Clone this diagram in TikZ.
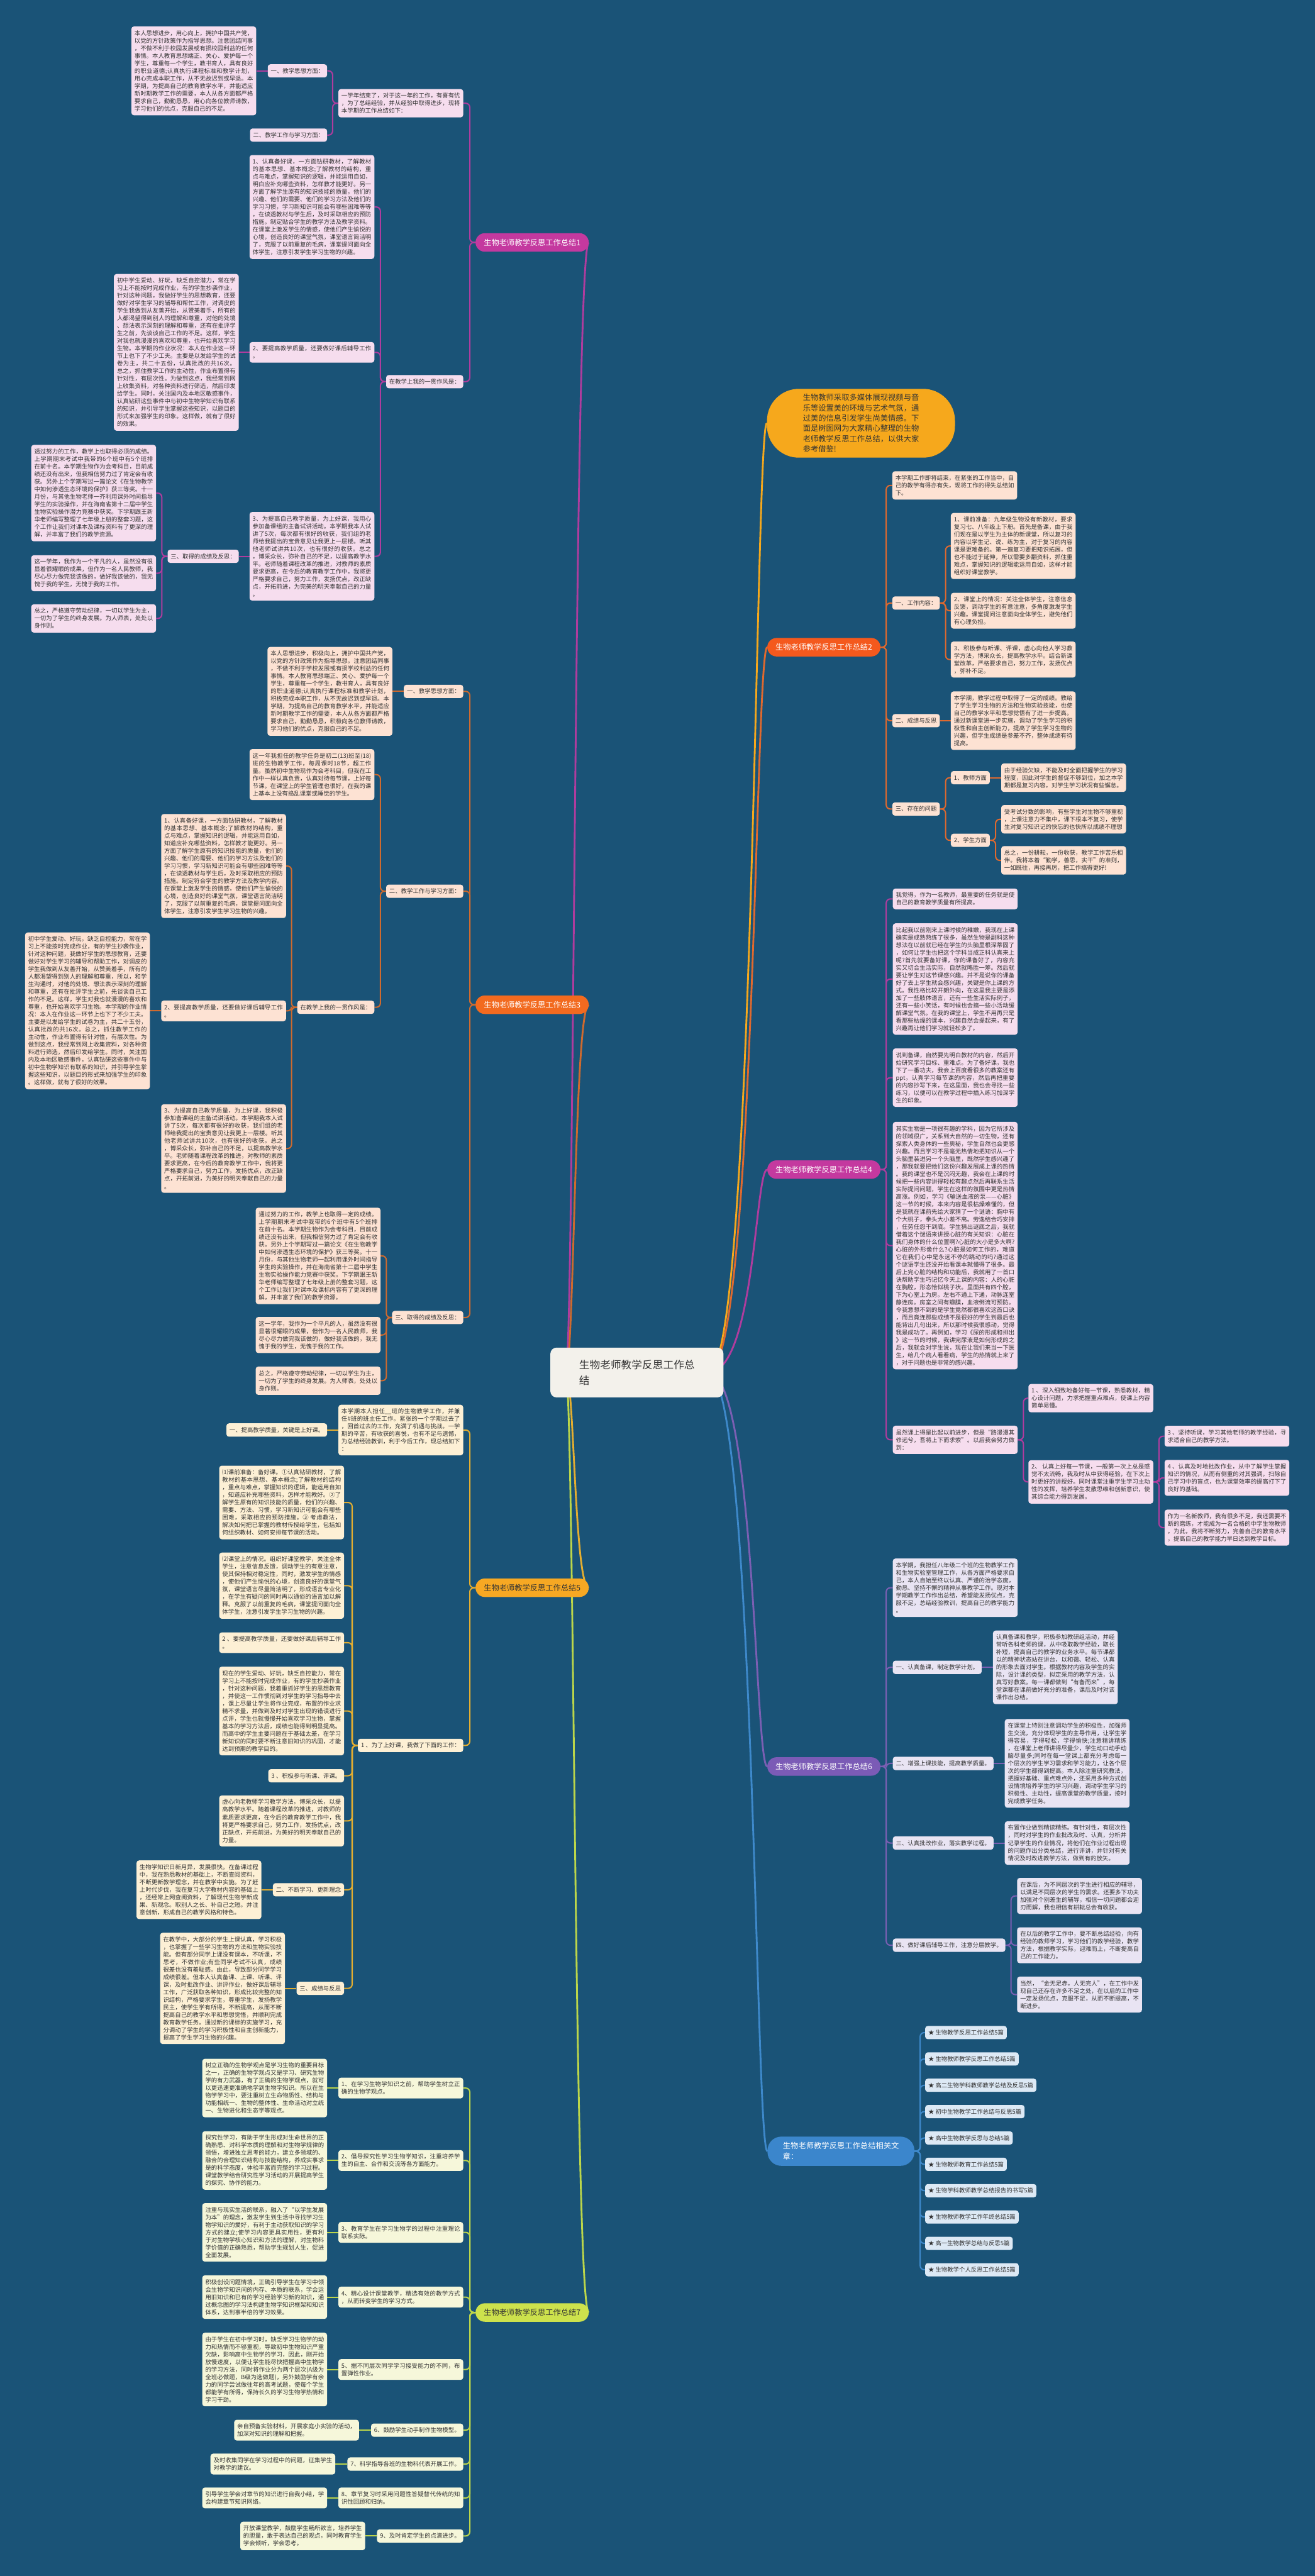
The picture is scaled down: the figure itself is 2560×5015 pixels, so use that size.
\documentclass[tikz,border=0pt]{standalone}
\usepackage{fontspec}
\setmainfont{Noto Sans CJK SC}
\usetikzlibrary{backgrounds}

\definecolor{bgblue}{HTML}{1A5377}
\definecolor{ink}{HTML}{333333}
\definecolor{cbox}{HTML}{F3F1EB}
\definecolor{introcol}{HTML}{F6A81C}
\definecolor{b1col}{HTML}{C4399F}
\definecolor{l1col}{HTML}{B03C9E}
\definecolor{f1col}{HTML}{F6DDEE}
\definecolor{b2col}{HTML}{F4591D}
\definecolor{l2col}{HTML}{E0692E}
\definecolor{f2col}{HTML}{FDE2D3}
\definecolor{b3col}{HTML}{F26A1F}
\definecolor{l3col}{HTML}{CF6A2E}
\definecolor{b5col}{HTML}{F7A823}
\definecolor{l5col}{HTML}{E4AE30}
\definecolor{f5col}{HTML}{FDF0D5}
\definecolor{b6col}{HTML}{7B5BB6}
\definecolor{l6col}{HTML}{7B5FB3}
\definecolor{f6col}{HTML}{E9E4F3}
\definecolor{b7col}{HTML}{CDE24C}
\definecolor{l7col}{HTML}{BCD64A}
\definecolor{f7col}{HTML}{F6F7DA}
\definecolor{b8col}{HTML}{3B86CC}
\definecolor{l8col}{HTML}{3E89CB}
\definecolor{f8col}{HTML}{DDE9F5}

\newcommand{\leaffont}{\fontsize{11.5pt}{14.7pt}\selectfont}

% let lines break between Chinese characters
\XeTeXinterchartokenstate=1
\chardef\cjkcls=10
\newcount\cjkc
\newcommand{\setcjk}[2]{\cjkc=#1\relax
  \loop\XeTeXcharclass\cjkc=\cjkcls\relax
  \ifnum\cjkc<#2\relax\advance\cjkc by 1\relax\repeat}
\setcjk{"2000}{"206F}
\setcjk{"2460}{"24FF}
\setcjk{"2600}{"26FF}
\setcjk{"3000}{"303F}
\setcjk{"4E00}{"9FFF}
\setcjk{"FF00}{"FFEF}
\XeTeXinterchartoks\cjkcls\cjkcls={\hskip0pt plus 1pt\relax}
\XeTeXinterchartoks 0 \cjkcls={\hskip0pt plus 1pt\relax}
\XeTeXinterchartoks\cjkcls 0 ={\hskip0pt plus 1pt\relax}
\tolerance=9999 \hbadness=10000 \hfuzz=4pt

\begin{document}
\begin{tikzpicture}[
    x=1pt, y=-1pt,
    leaf/.style={rounded corners=5pt, inner xsep=6pt, inner ysep=7.5pt, font=\leaffont, text=ink},
    para/.style={leaf, text width=231pt, align=justify},
    bnode/.style={rounded corners=18pt, minimum height=36pt, inner xsep=16pt, inner ysep=4pt, font=\fontsize{15pt}{18pt}\selectfont},
    main/.style={line width=3.5pt},
    p1/.style={fill=f1col}, p2/.style={fill=f2col}, p5/.style={fill=f5col},
    p6/.style={fill=f6col}, p7/.style={fill=f7col}, p8/.style={fill=f8col},
    e1/.style={draw=l1col, line width=2.5pt, rounded corners=8pt},
    e2/.style={draw=l2col, line width=2.5pt, rounded corners=8pt},
    e3/.style={draw=l3col, line width=2.5pt, rounded corners=8pt},
    e5/.style={draw=l5col, line width=2.5pt, rounded corners=8pt},
    e6/.style={draw=l6col, line width=2.5pt, rounded corners=8pt},
    e7/.style={draw=l7col, line width=2.5pt, rounded corners=8pt},
    e8/.style={draw=l8col, line width=2.5pt, rounded corners=8pt}
]
\useasboundingbox (0,0) rectangle (2560,5015);

% Centre topic and intro
\node[fill=cbox, text=ink, rounded corners=12pt, text width=225pt, align=justify, inner xsep=56pt, inner ysep=24pt, font=\fontsize{20.4pt}{30pt}\selectfont] (cn) at (1240,2672) {生物老师教学反思工作总结};
\node[fill=introcol, text=ink, rounded corners=62pt, text width=226pt, align=justify, inner xsep=70pt, inner ysep=10pt, font=\fontsize{15pt}{20pt}\selectfont, anchor=west] (intro) at (1493,824) {生物教师采取多媒体展现视频与音乐等设置美的环境与艺术气氛，通过美的信息引发学生尚美情感。下面是树图网为大家精心整理的生物老师教学反思工作总结，以供大家参考借鉴!};

% Branch nodes
\node[bnode, fill=b1col, text=white] (b1) at (1036,472) {生物老师教学反思工作总结1};
\node[bnode, fill=b3col, text=white] (b3) at (1036,1956) {生物老师教学反思工作总结3};
\node[bnode, fill=b5col, text=ink] (b5) at (1036,3091) {生物老师教学反思工作总结5};
\node[bnode, fill=b7col, text=ink] (b7) at (1036,4502) {生物老师教学反思工作总结7};
\node[bnode, fill=b2col, text=white] (b2) at (1604,1260) {生物老师教学反思工作总结2};
\node[bnode, fill=b1col, text=white] (b4) at (1604,2277) {生物老师教学反思工作总结4};
\node[bnode, fill=b6col, text=white] (b6) at (1604,3439) {生物老师教学反思工作总结6};
\node[fill=b8col, text=white, rounded corners=27pt, text width=226pt, align=justify, inner xsep=30pt, inner ysep=11pt, font=\fontsize{15pt}{21pt}\selectfont, anchor=west] (art) at (1494,4188) {生物老师教学反思工作总结相关文章：};

% Branch 1
\node[para, p1, anchor=east] (n1a) at (902,201) {一学年结束了，对于这一年的工作，有喜有忧，为了总结经验，并从经验中取得进步，现将本学期的工作总结如下：};
\node[leaf, p1, anchor=east] (n1a1) at (637,138) {一、教学思想方面：};
\node[para, p1, anchor=east] (n1a1t) at (499,138) {本人思想进步，用心向上，拥护中国共产党，以党的方针政策作为指导思想。注意团结同事，不做不利于校园发展或有损校园利益的任何事情。本人教育思想端正、关心、爱护每一个学生，尊重每一个学生，教书育人，具有良好的职业道德;认真执行课程标准和教学计划，用心完成本职工作，从不无故迟到或早退。本学期，为提高自己的教育教学水平，并能适应新时期教学工作的需要，本人从各方面都严格要求自己，勤勤恳恳，用心向各位教师请教，学习他们的优点，克服自己的不足。};
\node[leaf, p1, anchor=east] (n1a2) at (637,263) {二、教学工作与学习方面：};
\node[leaf, p1, anchor=east] (n1b) at (902,743) {在教学上我的一贯作风是：};
\node[para, p1, anchor=east] (n1b1) at (729,403) {1、认真备好课，一方面钻研教材，了解教材的基本思想、基本概念;了解教材的结构，重点与难点，掌握知识的逻辑，并能运用自如，明白应补充哪些资料，怎样教才能更好。另一方面了解学生原有的知识技能的质量，他们的兴趣、他们的需要、他们的学习方法及他们的学习习惯，学习新知识可能会有哪些困难等等，在读透教材与学生后，及时采取相应的预防措施。制定贴合学生的教学方法及教学资料。在课堂上激发学生的情感，使他们产生愉悦的心境，创造良好的课堂气氛，课堂语言简洁明了，克服了以前重复的毛病，课堂提问面向全体学生，注意引发学生学习生物的兴趣。};
\node[para, p1, anchor=east] (n1b2) at (729,686) {2、要提高教学质量，还要做好课后辅导工作。};
\node[para, p1, anchor=east] (n1b2t) at (465,686) {初中学生爱动、好玩，缺乏自控潜力，常在学习上不能按时完成作业，有的学生抄袭作业，针对这种问题，我做好学生的思想教育，还要做好对学生学习的辅导和帮忙工作，对调皮的学生我做到从友善开始，从赞美着手，所有的人都渴望得到别人的理解和尊重，对他的处境、想法表示深刻的理解和尊重，还有在批评学生之前，先谈谈自己工作的不足。这样，学生对我也就漫漫的喜欢和尊重，也开始喜欢学习生物。本学期的作业状况：本人在作业这一环节上也下了不少工夫。主要是以发给学生的试卷为主，共二十五份，认真批改的共16次。总之，抓住教学工作的主动性，作业布置得有针对性，有层次性。为做到这点，我经常到网上收集资料，对各种资料进行筛选，然后印发给学生。同时，关注国内及本地区敏感事件，认真钻研这些事件中与初中生物学知识有联系的知识，并引导学生掌握这些知识，以题目的形式来加强学生的印象。这样做，就有了很好的效果。};
\node[para, p1, anchor=east] (n1b3) at (729,1083) {3、为提高自己教学质量，为上好课，我用心参加备课组的主备试讲活动。本学期我本人试讲了5次，每次都有很好的收获，我们组的老师给我提出的宝贵意见让我更上一层楼。听其他老师试讲共10次，也有很好的收获。总之，博采众长，弥补自己的不足，以提高教学水平。老师随着课程改革的推进，对教师的素质要求更高，在今后的教育教学工作中，我将更严格要求自己，努力工作，发扬优点，改正缺点，开拓前进，为完美的明天奉献自己的力量。};
\node[leaf, p1, anchor=east] (n1c) at (465,1083) {三、取得的成绩及反思：};
\node[para, p1, anchor=east] (n1c1) at (304,960) {透过努力的工作，教学上也取得必须的成绩。上学期期末考试中我带的6个班中有5个班排在前十名。本学期生物作为会考科目，目前成绩还没有出来，但我相信努力过了肯定会有收获。另外上个学期写过一篇论文《在生物教学中如何渗透生态环境的保护》获三等奖。十一月份，与其他生物老师一齐利用课外时间指导学生的实验操作，并在海南省第十二届中学生生物实验操作潜力竞赛中获奖。下学期跟王新华老师编写整理了七年级上册的整套习题，这个工作让我们对课本及课标资料有了更深的理解，并丰富了我们的教学资源。};
\node[para, p1, anchor=east] (n1c2) at (304,1116) {这一学年，我作为一个平凡的人，虽然没有很显着很耀眼的成果，但作为一名人民教师，我尽心尽力做完我该做的，做好我该做的，我无愧于我的学生，无愧于我的工作。};
\node[para, p1, anchor=east] (n1c3) at (304,1204) {总之，严格遵守劳动纪律，一切以学生为主，一切为了学生的终身发展。为人师表，处处以身作则。};

% Branch 3
\node[leaf, p2, anchor=east] (n3a) at (902,1346) {一、教学思想方面：};
\node[para, p2, anchor=east] (n3at) at (764,1346) {本人思想进步，积极向上，拥护中国共产党，以党的方针政策作为指导思想。注意团结同事，不做不利于学校发展或有损学校利益的任何事情。本人教育思想端正、关心、爱护每一个学生，尊重每一个学生，教书育人，具有良好的职业道德;认真执行课程标准和教学计划，积极完成本职工作，从不无故迟到或早退。本学期，为提高自己的教育教学水平，并能适应新时期教学工作的需要，本人从各方面都严格要求自己，勤勤恳恳，积极向各位教师请教，学习他们的优点，克服自己的不足。};
\node[leaf, p2, anchor=east] (n3b) at (902,1735) {二、教学工作与学习方面：};
\node[para, p2, anchor=east] (n3b1) at (729,1508) {这一年我担任的教学任务是初二(13)班至(18)班的生物教学工作，每周课时18节，超工作量。虽然初中生物现作为会考科目，但我在工作中一样认真负责，认真对待每节课，上好每节课。在课堂上的学生管理也很好，在我的课上基本上没有捣乱课堂或睡觉的学生。};
\node[leaf, p2, anchor=east] (n3b2) at (729,1961) {在教学上我的一贯作风是：};
\node[para, p2, anchor=east] (n3b21) at (557,1686) {1、认真备好课，一方面钻研教材，了解教材的基本思想、基本概念;了解教材的结构，重点与难点，掌握知识的逻辑，并能运用自如，知道应补充哪些资料，怎样教才能更好。另一方面了解学生原有的知识技能的质量，他们的兴趣、他们的需要、他们的学习方法及他们的学习习惯，学习新知识可能会有哪些困难等等，在读透教材与学生后，及时采取相应的预防措施。制定符合学生的教学方法及教学内容。在课堂上激发学生的情感，使他们产生愉悦的心境，创造良好的课堂气氛，课堂语言简洁明了，克服了以前重复的毛病，课堂提问面向全体学生，注意引发学生学习生物的兴趣。};
\node[para, p2, anchor=east] (n3b22) at (557,1968) {2、要提高教学质量，还要做好课后辅导工作。};
\node[para, p2, anchor=east] (n3b22t) at (292,1968) {初中学生爱动、好玩，缺乏自控能力，常在学习上不能按时完成作业，有的学生抄袭作业，针对这种问题，我做好学生的思想教育，还要做好对学生学习的辅导和帮助工作，对调皮的学生我做到从友善开始，从赞美着手，所有的人都渴望得到别人的理解和尊重，所以，和学生沟通时，对他的处境、想法表示深刻的理解和尊重，还有在批评学生之前，先谈谈自己工作的不足。这样，学生对我也就漫漫的喜欢和尊重，也开始喜欢学习生物。本学期的作业情况：本人在作业这一环节上也下了不少工夫。主要是以发给学生的试卷为主，共二十五份，认真批改的共16次。总之，抓住教学工作的主动性，作业布置得有针对性，有层次性。为做到这点，我经常到网上收集资料，对各种资料进行筛选，然后印发给学生。同时，关注国内及本地区敏感事件，认真钻研这些事件中与初中生物学知识有联系的知识，并引导学生掌握这些知识，以题目的形式来加强学生的印象。这样做，就有了很好的效果。};
\node[para, p2, anchor=east] (n3b23) at (557,2236) {3、为提高自己教学质量，为上好课，我积极参加备课组的主备试讲活动。本学期我本人试讲了5次，每次都有很好的收获，我们组的老师给我提出的宝贵意见让我更上一层楼。听其他老师试讲共10次，也有很好的收获。总之，博采众长，弥补自己的不足，以提高教学水平。老师随着课程改革的推进，对教师的素质要求更高，在今后的教育教学工作中，我将更严格要求自己，努力工作，发扬优点，改正缺点，开拓前进，为美好的明天奉献自己的力量。};
\node[leaf, p2, anchor=east] (n3c) at (902,2565) {三、取得的成绩及反思：};
\node[para, p2, anchor=east] (n3c1) at (741,2445) {通过努力的工作，教学上也取得一定的成绩。上学期期末考试中我带的6个班中有5个班排在前十名。本学期生物作为会考科目，目前成绩还没有出来，但我相信努力过了肯定会有收获。另外上个学期写过一篇论文《在生物教学中如何渗透生态环境的保护》获三等奖。十一月份，与其他生物老师一起利用课外时间指导学生的实验操作，并在海南省第十二届中学生生物实验操作能力竞赛中获奖。下学期跟王新华老师编写整理了七年级上册的整套习题，这个工作让我们对课本及课标内容有了更深的理解，并丰富了我们的教学资源。};
\node[para, p2, anchor=east] (n3c2) at (741,2599) {这一学年，我作为一个平凡的人，虽然没有很显著很耀眼的成果，但作为一名人民教师，我尽心尽力做完我该做的，做好我该做的，我无愧于我的学生，无愧于我的工作。};
\node[para, p2, anchor=east] (n3c3) at (741,2688) {总之，严格遵守劳动纪律，一切以学生为主，一切为了学生的终身发展。为人师表，处处以身作则。};

% Branch 5
\node[para, p5, anchor=east] (n5a) at (902,2784) {本学期本人担任\_\_班的生物教学工作，并兼任\#班的班主任工作。紧张的一个学期过去了，回首过去的工作，充满了机遇与挑战。一学期的辛苦，有收获的喜悦，也有不足与遗憾，为总结经验教训，利于今后工作，现总结如下：};
\node[leaf, p5, anchor=east] (n5a1) at (637,2784) {一、提高教学质量，关键是上好课。};
\node[leaf, p5, anchor=east] (n5b) at (902,3398) {1 、为了上好课，我做了下面的工作：};
\node[para, p5, anchor=east] (n5b1) at (670,2925) {⑴课前准备：备好课。①认真钻研教材，了解教材的基本思想、基本概念;了解教材的结构，重点与难点，掌握知识的逻辑，能运用自如，知道应补充哪些资料，怎样才能教好。②了解学生原有的知识技能的质量，他们的兴趣、需要、方法、习惯，学习新知识可能会有哪些困难，采取相应的预防措施。③ 考虑教法，解决如何把已掌握的教材传授给学生，包括如何组织教材、如何安排每节课的活动。};
\node[para, p5, anchor=east] (n5b2) at (670,3087) {⑵课堂上的情况。组织好课堂教学，关注全体学生，注意信息反馈，调动学生的有意注意，使其保持相对稳定性，同时，激发学生的情感，使他们产生愉悦的心境，创造良好的课堂气氛，课堂语言尽量简洁明了，形成语言专业化，在学生有疑问的同时再以通俗的语言加以解释。克服了以前重复的毛病，课堂提问面向全体学生，注意引发学生学习生物的兴趣。};
\node[para, p5, anchor=east] (n5b3) at (670,3198) {2 、要提高教学质量，还要做好课后辅导工作。};
\node[para, p5, anchor=east] (n5b4) at (670,3331) {现在的学生爱动、好玩，缺乏自控能力，常在学习上不能按时完成作业，有的学生抄袭作业，针对这种问题，我着重抓好学生的思想教育，并使这一工作惯彻到对学生的学习指导中去，课上尽量让学生将作业完成，布置的作业求精不求量，并做到及时对学生出现的错误进行点评，学生也就慢慢开始喜欢学习生物，掌握基本的学习方法后，成绩也能得到明显提高。而高中的学生主要问题在于基础太差，在学习新知识的同时要不断注意旧知识的巩固，才能达到预期的教学目的。};
\node[leaf, p5, anchor=east] (n5b5) at (670,3457) {3 、积极参与听课、评课。};
\node[para, p5, anchor=east] (n5b6) at (670,3545) {虚心向老教师学习教学方法，博采众长，以提高教学水平。随着课程改革的推进，对教师的素质要求更高，在今后的教育教学工作中，我将更严格要求自己，努力工作，发扬优点，改正缺点，开拓前进，为美好的明天奉献自己的力量。};
\node[leaf, p5, anchor=east] (n5b7) at (670,3679) {二、不断学习、更新理念};
\node[para, p5, anchor=east] (n5b7t) at (509,3679) {生物学知识日新月异，发展很快。在备课过程中，我在熟悉教材的基础上，不断查阅资料，不断更新教学理念，并在教学中实施。为了赶上时代步伐，我在复习大学教材内容的基础上，还经常上网查阅资料，了解现代生物学新成果、新观念。取别人之长、补自己之短。并注意创新，形成自己的教学风格和特色。};
\node[leaf, p5, anchor=east] (n5b8) at (670,3871) {三、成绩与反思};
\node[para, p5, anchor=east] (n5b8t) at (555,3871) {在教学中，大部分的学生上课认真，学习积极，也掌握了一些学习生物的方法和生物实验技能。但有部分同学上课没有课本，不听课，不思考，不做作业;有些同学考试不认真，成绩很差也没有羞耻感。由此，导致部分同学学习成绩很差。但本人认真备课、上课、听课、评课，及时批改作业、讲评作业，做好课后辅导工作，广泛获取各种知识，形成比较完整的知识结构，严格要求学生，尊重学生，发扬教学民主，使学生学有所得，不断提高，从而不断提高自己的教学水平和思想觉悟，并顺利完成教育教学任务。通过新的课标的实施学习，充分调动了学生的学习积极性和自主创新能力，提高了学生学习生物的兴趣。};

% Branch 7
\node[para, p7, anchor=east] (n71) at (902,4065) {1、在学习生物学知识之前，帮助学生树立正确的生物学观点。};
\node[para, p7, anchor=east] (n71t) at (637,4065) {树立正确的生物学观点是学习生物的重要目标之一，正确的生物学观点又是学习、研究生物学的有力武器，有了正确的生物学观点，就可以更迅速更准确地学到生物学知识。所以在生物学学习中，要注重树立生命物质性、结构与功能相统一、生物的整体性、生命活动对立统一、生物进化和生态学等观点。};
\node[para, p7, anchor=east] (n72) at (902,4206) {2、倡导探究性学习生物学知识，注重培养学生的自主、合作和交流等各方面能力。};
\node[para, p7, anchor=east] (n72t) at (637,4206) {探究性学习，有助于学生形成对生命世界的正确熟悉、对科学本质的理解和对生物学规律的领悟，增进独立思考的能力，建立多领域的、融合的合理知识结构与技能结构，养成实事求是的科学态度，体验丰富而完整的学习过程。课堂教学结合研究性学习活动的开展提高学生的探究、协作的能力。};
\node[para, p7, anchor=east] (n73) at (902,4346) {3、教育学生在学习生物学的过程中注重理论联系实际。};
\node[para, p7, anchor=east] (n73t) at (637,4346) {注重与现实生活的联系，融入了“以学生发展为本”的理念，激发学生到生活中寻找学习生物学知识的爱好，有利于主动获取知识的学习方式的建立;使学习内容更具实用性，更有利于对生物学核心知识和方法的理解，对生物科学价值的正确熟悉，帮助学生规划人生，促进全面发展。};
\node[para, p7, anchor=east] (n74) at (902,4472) {4、精心设计课堂教学，精选有效的教学方式，从而转变学生的学习方式。};
\node[para, p7, anchor=east] (n74t) at (637,4472) {积极创设问题情境，正确引导学生在学习中领会生物学知识间的内存、本质的联系，学会运用旧知识和已有的学习经验学习新的知识，通过概念图的学习法构建生物学知识框架和知识体系，达到事半倍的学习效果。};
\node[para, p7, anchor=east] (n75) at (902,4613) {5、据不同层次同学学习接受能力的不同，布置弹性作业。};
\node[para, p7, anchor=east] (n75t) at (637,4613) {由于学生在初中学习时，缺乏学习生物学的动力和热情而不够重视，导致初中生物知识严重欠缺，影响高中生物学的学习，因此，刚开始放慢速度，以便让学生能尽快把握高中生物学的学习方法，同时将作业分为两个层次(A级为全班必做题，B级为选做题)，另外鼓励学有余力的同学尝试做往年的高考试题，使每个学生都能学有所得，保持长久的学习生物学热情和学习干劲。};
\node[leaf, p7, anchor=east] (n76) at (902,4731) {6、鼓励学生动手制作生物模型。};
\node[para, p7, anchor=east] (n76t) at (699,4731) {亲自预备实验材料，开展家庭小实验的活动，加深对知识的理解和把握。};
\node[leaf, p7, anchor=east] (n77) at (902,4797) {7、科学指导各班的生物科代表开展工作。};
\node[para, p7, anchor=east] (n77t) at (653,4797) {及时收集同学在学习过程中的问题，征集学生对教学的建议。};
\node[para, p7, anchor=east] (n78) at (902,4863) {8、章节复习时采用问题性答疑替代传统的知识性回顾和归纳。};
\node[para, p7, anchor=east] (n78t) at (637,4863) {引导学生学会对章节的知识进行自我小结，学会构建章节知识网络。};
\node[leaf, p7, anchor=east] (n79) at (902,4937) {9、及时肯定学生的点滴进步。};
\node[para, p7, anchor=east] (n79t) at (711,4937) {开放课堂教学，鼓励学生畅所欲言，培养学生的胆量，敢于表达自己的观点，同时教育学生学会倾听，学会思考。};

% Branch 2
\node[para, p2, anchor=west] (n2a) at (1737,945) {本学期工作即将结束，在紧张的工作当中，自己的教学有得亦有失，现将工作的得失总结如下。};
\node[leaf, p2, anchor=west] (n2b) at (1737,1174) {一、工作内容：};
\node[para, p2, anchor=west] (n2b1) at (1851,1063) {1、课前准备：九年级生物没有新教材，要求复习七、八年级上下册。首先是备课，由于我们现在是以学生为主体的新课堂，所以复习的内容以学生记、说、练为主，对于复习的内容课是更难备的。第一遍复习要把知识拓展，但也不能过于延伸，所以需要多翻资料，抓住重难点，掌握知识的逻辑能运用自如，这样才能组织好课堂教学。};
\node[para, p2, anchor=west] (n2b2) at (1851,1189) {2、课堂上的情况：关注全体学生，注意信息反馈，调动学生的有意注意，多角度激发学生兴趣。课堂提问注意面向全体学生，避免他们有心理负担。};
\node[para, p2, anchor=west] (n2b3) at (1851,1284) {3、积极参与听课、评课，虚心向他人学习教学方法，博采众长，提高教学水平。结合新课堂改革，严格要求自己，努力工作，发扬优点，弥补不足。};
\node[leaf, p2, anchor=west] (n2c) at (1737,1403) {二、成绩与反思};
\node[para, p2, anchor=west] (n2ct) at (1851,1403) {本学期，教学过程中取得了一定的成绩。教给了学生学习生物的方法和生物实验技能，也使自己的教学水平和思想觉悟有了进一步提高。通过新课堂进一步实施，调动了学生学习的积极性和自主创新能力，提高了学生学习生物的兴趣，但学生成绩是参差不齐，整体成绩有待提高。};
\node[leaf, p2, anchor=west] (n2d) at (1737,1575) {三、存在的问题};
\node[leaf, p2, anchor=west] (n2d1) at (1851,1514) {1、教师方面};
\node[para, p2, anchor=west] (n2d1t) at (1949,1514) {由于经验欠缺，不能及时全面把握学生的学习程度，因此对学生的督促不够到位，加之本学期都是复习内容，对学生学习状况有些懈怠。};
\node[leaf, p2, anchor=west] (n2d2) at (1851,1636) {2、学生方面};
\node[para, p2, anchor=west] (n2d2a) at (1949,1595) {受考试分数的影响，有些学生对生物不够重视，上课注意力不集中，课下根本不复习，使学生对复习知识记的快忘的也快所以成绩不理想};
\node[para, p2, anchor=west] (n2d2b) at (1949,1675) {总之，一份耕耘，一份收获，教学工作苦乐相伴。我将本着“勤学，善思，实干”的准则，一如既往，再接再厉，把工作搞得更好!};

% Branch 4
\node[para, p1, anchor=west] (n4a) at (1738,1750) {我觉得，作为一名教师，最重要的任务就是使自己的教育教学质量有所提高。};
\node[para, p1, anchor=west] (n4b) at (1738,1906) {比起我以前刚来上课时候的稚嫩，我现在上课确实是成熟熟练了很多，虽然生物是副科这种想法在以前就已经在学生的头脑里根深蒂固了，如何让学生也把这个学科当成正科认真来上呢?首先就要备好课，你的课备好了，内容充实又切合生活实际，自然就略胜一筹。然后就要让学生对这节课感兴趣。并不是说你的课备好了去上学生就会感兴趣，关键是你上课的方式。我性格比较开朗外向，在这里我主要是添加了一些肢体语言，还有一些生活实际例子，还有一些小笑话，有时候也会搞一些小活动缓解课堂气氛。在我的课堂上，学生不用再只是看那些枯燥的课本，兴趣自然会提起来，有了兴趣再让他们学习就轻松多了。};
\node[para, p1, anchor=west] (n4c) at (1738,2098) {说到备课，自然要先明白教材的内容，然后开始研究学习目标、重难点。为了备好课，我也下了一番功夫，我会上百度看很多的教案还有ppt，认真学习每节课的内容，然后再把重要的内容抄写下来，在这里面，我也会寻找一些练习，以便可以在教学过程中插入练习加深学生的印象。};
\node[para, p1, anchor=west] (n4d) at (1738,2425) {其实生物是一项很有趣的学科，因为它所涉及的领域很广，关系到大自然的一切生物，还有探索人类身体的一些奥秘，学生自然也会更感兴趣。而且学习不是毫无热情地把知识从一个头脑里装进另一个头脑里，既然学生感兴趣了，那我就要把他们这份兴趣发展成上课的热情。我的课堂也不是沉闷无趣，我会在上课的时候把一些内容讲得轻松有趣点然后再联系生活实际提问问题，学生在这样的氛围中更是热情高涨。例如，学习《输送血液的泵——心脏》这一节的时候，本来内容是很枯燥难懂的，但是我就在课前先给大家猜了一个谜语：胸中有个大桃子，拳头大小差不离。劳逸结合巧安排，任劳任怨干到底。学生猜出谜底之后，我就借着这个谜语来讲授心脏的有关知识：心脏在我们身体的什么位置啊?心脏的大小是多大啊?心脏的外形像什么?心脏是如何工作的，难道它在我们心中是永远不停的跳动的吗?通过这个谜语学生还没开始看课本就懂得了很多。最后上完心脏的结构和功能后，我就用了一首口诀帮助学生巧记忆今天上课的内容：人的心脏在胸腔，形态恰似桃子状。里面共有四个腔，下为心室上为房。左右不通上下通，动脉连室静连房。房室之间有瓣膜，血液倒流可预防。令我意想不到的是学生竟然都很喜欢这首口诀，而且竟连那些成绩不是很好的学生到最后也能背出几句出来，所以那时候我很感动，觉得我是成功了。再例如，学习《尿的形成和排出》这一节的时候，我讲完尿液是如何形成的之后，我就会对学生说，现在让我们来当一下医生，给几个病人看看病，学生的热情就上来了，对于问题也是非常的感兴趣。};
\node[para, p1, anchor=west] (n4e) at (1738,2803) {虽然课上得是比起以前进步，但是“路漫漫其修远兮，吾将上下而求索”。以后我会努力做到：};
\node[para, p1, anchor=west] (n4e1) at (2002,2722) {1 、深入细致地备好每一节课，熟悉教材，精心设计问题，力求把握重点难点，使课上内容简单易懂。};
\node[para, p1, anchor=west] (n4e2) at (2002,2885) {2、 认真上好每一节课，一般第一次上总是感觉不太流畅，我及时从中获得经验，在下次上时更好的讲授好。同时课堂注重学生学习主动性的发挥，培养学生发散思维和创新意识，使其综合能力得到发展。};
\node[para, p1, anchor=west] (n4e2a) at (2267,2796) {3 、坚持听课，学习其他老师的教学经验，寻求适合自己的教学方法。};
\node[para, p1, anchor=west] (n4e2b) at (2267,2877) {4 、认真及时地批改作业，从中了解学生掌握知识的情况，从而有侧重的对其强调，扫除自己学习中的盲点，也为课堂效率的提高打下了良好的基础。};
\node[para, p1, anchor=west] (n4e2c) at (2267,2974) {作为一名新教师，我有很多不足，我还需要不断的磨练，才能成为一名合格的中学生物教师，为此，我将不断努力，完善自己的教育水平，提高自己的教学能力早日达到教学目标。};

% Branch 6
\node[para, p6, anchor=west] (n6a) at (1738,3091) {本学期，我担任八年级二个班的生物教学工作和生物实验室管理工作，从各方面严格要求自己，本人自始至终以认真、严谨的治学态度，勤恳、坚持不懈的精神从事教学工作。现对本学期教学工作作出总结，希望能发扬优点，克服不足，总结经验教训，提高自己的教学能力。};
\node[leaf, p6, anchor=west] (n6b) at (1738,3246) {一、认真备课，制定教学计划。};
\node[para, p6, anchor=west] (n6bt) at (1933,3246) {认真备课和教学，积极参加教研组活动，并经常听各科老师的课，从中吸取教学经验，取长补短，提高自己的教学的业务水平。每节课都以的精神状态站在讲台，以和蔼、轻松、认真的形象去面对学生。根据教材内容及学生的实际，设计课的类型，拟定采用的教学方法，认真写好教案。每一课都做到“有备而来”，每堂课都在课前做好充分的准备，课后及时对该课作出总结。};
\node[leaf, p6, anchor=west] (n6c) at (1738,3433) {二、增强上课技能，提高教学质量。};
\node[para, p6, anchor=west] (n6ct) at (1956,3433) {在课堂上特别注意调动学生的积极性，加强师生交流，充分体现学生的主导作用，让学生学得容易，学得轻松，学得愉快;注意精讲精练，在课堂上老师讲得尽量少，学生动口动手动脑尽量多;同时在每一堂课上都充分考虑每一个层次的学生学习需求和学习能力，让各个层次的学生都得到提高。本人除注重研究教法，把握好基础、重点难点外，还采用多种方式创设情境培养学生的学习兴趣，调动学生学习的积极性、主动性，提高课堂的教学质量，按时完成教学任务。};
\node[leaf, p6, anchor=west] (n6d) at (1738,3588) {三、认真批改作业，落实教学过程。};
\node[para, p6, anchor=west] (n6dt) at (1956,3588) {布置作业做到精读精练。有针对性，有层次性，同时对学生的作业批改及时、认真，分析并记录学生的作业情况，将他们在作业过程出现的问题作出分类总结，进行评讲，并针对有关情况及时改进教学方法，做到有的放矢。};
\node[leaf, p6, anchor=west] (n6e) at (1738,3787) {四、做好课后辅导工作，注意分层教学。};
\node[para, p6, anchor=west] (n6e1) at (1980,3691) {在课后，为不同层次的学生进行相应的辅导，以满足不同层次的学生的需求。还要多下功夫加强对个别差生的辅导，相信一切问题都会迎刃而解，我也相信有耕耘总会有收获。};
\node[para, p6, anchor=west] (n6e2) at (1980,3787) {在以后的教学工作中，要不断总结经验，向有经验的教师学习，学习他们的教学经验，教学方法，根据教学实际，迎难而上，不断提高自己的工作能力。};
\node[para, p6, anchor=west] (n6e3) at (1980,3883) {当然，“金无足赤，人无完人”，在工作中发现自己还存在许多不足之处，在以后的工作中一定发扬优点，克服不足，从而不断提高，不断进步。};

% Related articles
\foreach \t [count=\i] in {生物教学反思工作总结5篇, 生物教师教学反思工作总结5篇, 高二生物学科教师教学总结及反思5篇, 初中生物教学工作总结与反思5篇, 高中生物教学反思与总结5篇, 生物教师教育工作总结5篇, 生物学科教师教学总结报告的书写5篇, 生物教师教学工作年终总结5篇, 高一生物教学总结与反思5篇, 生物教学个人反思工作总结5篇}
    \node[leaf, p8, anchor=west] (a\i) at (1801, {3957+51.3*(\i-1)}) {★ \t};

% Connectors
\begin{pgfonlayer}{background}
\fill[bgblue] (0,0) rectangle (2560,5015);
\draw[main, draw=l1col] ([xshift=30pt]cn.west) .. controls (1118,2672) and (1118,472) .. (b1.east);
\draw[main, draw=l3col] ([xshift=30pt]cn.west) .. controls (1118,2672) and (1118,1956) .. (b3.east);
\draw[main, draw=l5col] ([xshift=30pt]cn.west) .. controls (1118,2672) and (1118,3091) .. (b5.east);
\draw[main, draw=l7col] ([xshift=30pt]cn.west) .. controls (1118,2672) and (1118,4502) .. (b7.east);
\draw[main, draw=introcol] ([xshift=-30pt]cn.east) .. controls (1470,2672) and (1470,824) .. (intro.west);
\draw[main, draw=l2col] ([xshift=-30pt]cn.east) .. controls (1470,2672) and (1470,1260) .. (b2.west);
\draw[main, draw=l1col] ([xshift=-30pt]cn.east) .. controls (1470,2672) and (1470,2277) .. (b4.west);
\draw[main, draw=l6col] ([xshift=-30pt]cn.east) .. controls (1470,2672) and (1470,3439) .. (b6.west);
\draw[main, draw=l8col] ([xshift=-30pt]cn.east) .. controls (1470,2672) and (1470,4188) .. (art.west);

\foreach \c in {n1a,n1b} \draw[e1] (b1.west) -- ++(-11,0) |- (\c.east);
\foreach \c in {n1a1,n1a2} \draw[e1] (n1a.west) -- ++(-11,0) |- (\c.east);
\draw[e1] (n1a1.west) -- (n1a1t.east);
\foreach \c in {n1b1,n1b2,n1b3} \draw[e1] (n1b.west) -- ++(-11,0) |- (\c.east);
\draw[e1] (n1b2.west) -- (n1b2t.east);
\draw[e1] (n1b3.west) -- (n1c.east);
\foreach \c in {n1c1,n1c2,n1c3} \draw[e1] (n1c.west) -- ++(-11,0) |- (\c.east);

\foreach \c in {n3a,n3b,n3c} \draw[e3] (b3.west) -- ++(-11,0) |- (\c.east);
\draw[e3] (n3a.west) -- (n3at.east);
\foreach \c in {n3b1,n3b2} \draw[e3] (n3b.west) -- ++(-11,0) |- (\c.east);
\foreach \c in {n3b21,n3b22,n3b23} \draw[e3] (n3b2.west) -- ++(-11,0) |- (\c.east);
\draw[e3] (n3b22.west) -- (n3b22t.east);
\foreach \c in {n3c1,n3c2,n3c3} \draw[e3] (n3c.west) -- ++(-11,0) |- (\c.east);

\foreach \c in {n5a,n5b} \draw[e5] (b5.west) -- ++(-11,0) |- (\c.east);
\draw[e5] (n5a.west) -- (n5a1.east);
\foreach \c in {n5b1,n5b2,n5b3,n5b4,n5b5,n5b6,n5b7,n5b8} \draw[e5] (n5b.west) -- ++(-11,0) |- (\c.east);
\draw[e5] (n5b7.west) -- (n5b7t.east);
\draw[e5] (n5b8.west) -- (n5b8t.east);

\foreach \c in {n71,n72,n73,n74,n75,n76,n77,n78,n79} {
    \draw[e7] (b7.west) -- ++(-11,0) |- (\c.east);
    \draw[e7] (\c.west) -- (\c t.east);
}

\foreach \c in {n2a,n2b,n2c,n2d} \draw[e2] (b2.east) -- ++(11,0) |- (\c.west);
\foreach \c in {n2b1,n2b2,n2b3} \draw[e2] (n2b.east) -- ++(11,0) |- (\c.west);
\draw[e2] (n2c.east) -- (n2ct.west);
\foreach \c in {n2d1,n2d2} \draw[e2] (n2d.east) -- ++(11,0) |- (\c.west);
\draw[e2] (n2d1.east) -- (n2d1t.west);
\foreach \c in {n2d2a,n2d2b} \draw[e2] (n2d2.east) -- ++(11,0) |- (\c.west);

\foreach \c in {n4a,n4b,n4c,n4d,n4e} \draw[e1] (b4.east) -- ++(11,0) |- (\c.west);
\foreach \c in {n4e1,n4e2} \draw[e1] (n4e.east) -- ++(11,0) |- (\c.west);
\foreach \c in {n4e2a,n4e2b,n4e2c} \draw[e1] (n4e2.east) -- ++(11,0) |- (\c.west);

\foreach \c in {n6a,n6b,n6c,n6d,n6e} \draw[e6] (b6.east) -- ++(11,0) |- (\c.west);
\draw[e6] (n6b.east) -- (n6bt.west);
\draw[e6] (n6c.east) -- (n6ct.west);
\draw[e6] (n6d.east) -- (n6dt.west);
\foreach \c in {n6e1,n6e2,n6e3} \draw[e6] (n6e.east) -- ++(11,0) |- (\c.west);

\foreach \i in {1,...,10} \draw[e8] (art.east) -- ++(11,0) |- (a\i.west);
\end{pgfonlayer}

\end{tikzpicture}
\end{document}
